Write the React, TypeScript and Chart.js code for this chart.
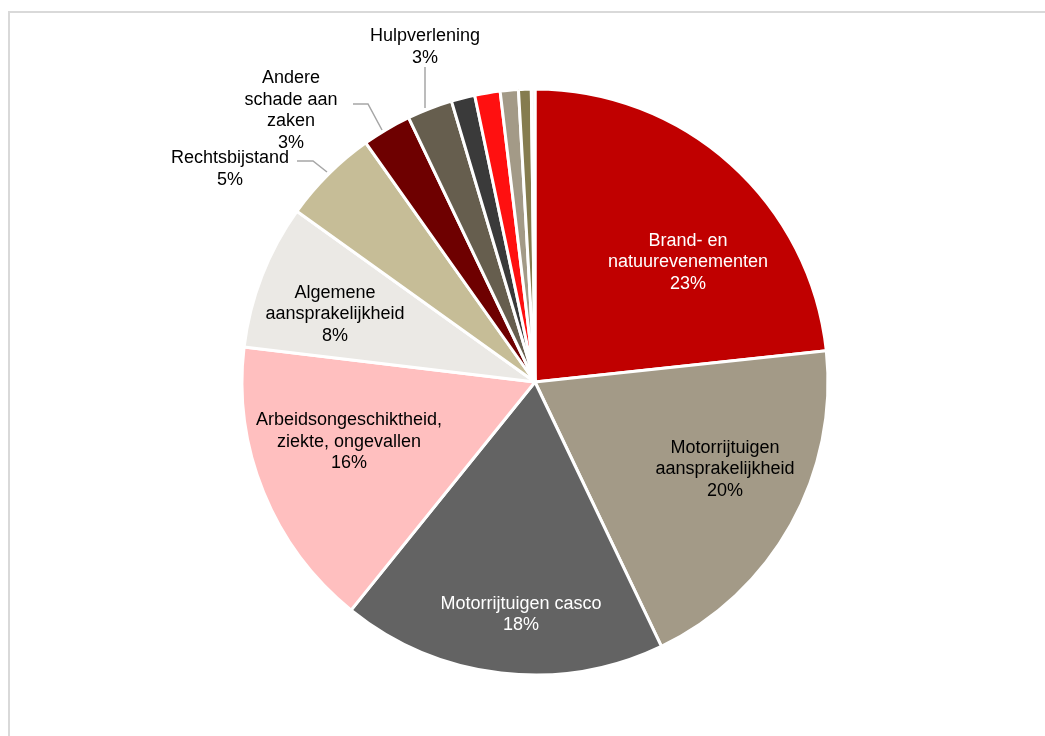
import React, { useEffect, useRef } from "react";
import { Chart, registerables } from "chart.js";

Chart.register(...registerables);

const categories = [
  "Brand- en natuurevenementen",
  "Motorrijtuigen aansprakelijkheid",
  "Motorrijtuigen casco",
  "Arbeidsongeschiktheid, ziekte, ongevallen",
  "Algemene aansprakelijkheid",
  "Rechtsbijstand",
  "Andere schade aan zaken",
  "Hulpverlening",
  "Krediet en borgtocht",
  "Diefstal",
  "Transport",
  "Luchtvaart",
  "Overige",
];

const shares = [23.3, 19.6, 17.9, 16.1, 8.0, 5.3, 2.7, 2.5, 1.3, 1.4, 1.0, 0.7, 0.2];

const sliceColors = [
  "#c00000",
  "#a39a87",
  "#636363",
  "#ffbfbf",
  "#ebe9e5",
  "#c6bd97",
  "#6e0000",
  "#665e4e",
  "#3a3a3a",
  "#ff1010",
  "#a39a87",
  "#857c4f",
  "#f2f2f2",
];

// label lines (text) for each labelled slice
const labelLines: string[][] = [
  ["Brand- en", "natuurevenementen"],
  ["Motorrijtuigen", "aansprakelijkheid"],
  ["Motorrijtuigen casco"],
  ["Arbeidsongeschiktheid,", "ziekte, ongevallen"],
  ["Algemene", "aansprakelijkheid"],
  ["Rechtsbijstand"],
  ["Andere", "schade aan", "zaken"],
  ["Hulpverlening"],
];

// label layout (canvas coords: page - 8)
const labelPos = [
  { x: 680, y: 231, color: "#ffffff" },
  { x: 717, y: 438, color: "#000000" },
  { x: 513, y: 594, color: "#ffffff" },
  { x: 341, y: 410.5, color: "#000000" },
  { x: 327, y: 283, color: "#000000" },
  { x: 222, y: 148.5, color: "#000000" },
  { x: 283, y: 68.5, color: "#000000" },
  { x: 417, y: 26.8, color: "#000000" },
];

const leaderLines: number[][][] = [
  [], [], [], [], [],
  [[289, 153], [305, 153], [319, 164]],
  [[345, 96], [360, 96], [374, 122]],
  [[417, 59], [417, 100]],
];

const LINE_H = 21.6;

const labelPlugin = {
  id: "sliceLabels",
  afterDatasetsDraw(chart: any) {
    const ctx = chart.ctx;
    ctx.save();
    ctx.font = "18px 'Liberation Sans', Arial, sans-serif";
    ctx.textAlign = "center";
    ctx.textBaseline = "alphabetic";
    const total = shares.reduce((a, b) => a + b, 0);
    labelLines.forEach((lines, i) => {
      const p = labelPos[i];
      const pct = Math.round((shares[i] / total) * 100) + "%";
      const all = [...lines, pct];
      ctx.fillStyle = p.color;
      all.forEach((t, k) => {
        ctx.fillText(t, p.x, p.y + k * LINE_H + 6.5);
      });
      const ll = leaderLines[i];
      if (ll && ll.length) {
        ctx.strokeStyle = "#a6a6a6";
        ctx.lineWidth = 1.5;
        ctx.beginPath();
        ll.forEach((pt, k) => (k === 0 ? ctx.moveTo(pt[0], pt[1]) : ctx.lineTo(pt[0], pt[1])));
        ctx.stroke();
      }
    });
    ctx.restore();
  },
};

export default function App() {
  const ref = useRef<HTMLCanvasElement>(null);
  useEffect(() => {
    if (!ref.current) return;
    const chart = new Chart(ref.current, {
      type: "pie",
      data: {
        labels: categories,
        datasets: [
          {
            data: shares,
            backgroundColor: sliceColors,
            borderColor: "#ffffff",
            borderWidth: 3,
            radius: 293,
          } as any,
        ],
      },
      options: {
        animation: false,
        responsive: false,
        maintainAspectRatio: false,
        layout: { padding: { left: 227, right: 210, top: 74, bottom: 54 } },
        plugins: {
          legend: { display: false },
          tooltip: { enabled: false },
          title: { display: false },
        },
      },
      plugins: [labelPlugin],
    });
    return () => chart.destroy();
  }, []);

  return (
    <div
      style={{
        position: "fixed",
        left: 0,
        top: 0,
        width: 1045,
        height: 736,
        overflow: "hidden",
        background: "#ffffff",
      }}
    >
      <div
        style={{
          position: "absolute",
          left: 8,
          top: 11,
          width: 1100,
          height: 800,
          border: "2px solid #d9d9d9",
          boxSizing: "border-box",
        }}
      />
      <canvas
        ref={ref}
        width={1037}
        height={728}
        style={{ position: "absolute", left: 8, top: 8, width: 1037, height: 728 }}
      />
    </div>
  );
}
